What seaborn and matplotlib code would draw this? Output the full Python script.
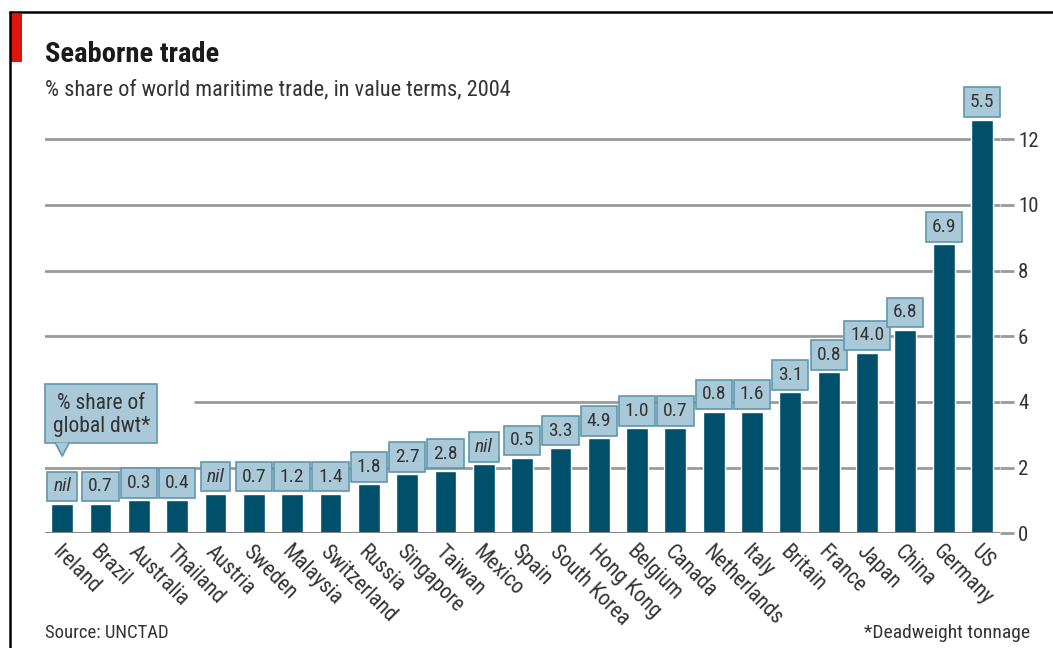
import numpy as np
import pandas as pd
import matplotlib
matplotlib.use('Agg')
import matplotlib.pyplot as plt
import seaborn as sns
from matplotlib.patches import Rectangle, Polygon
from matplotlib.lines import Line2D
from matplotlib import font_manager

# data
countries = ['Ireland', 'Brazil', 'Australia', 'Thailand', 'Austria', 'Sweden',
             'Malaysia', 'Switzerland', 'Russia', 'Singapore', 'Taiwan', 'Mexico',
             'Spain', 'South Korea', 'Hong Kong', 'Belgium', 'Canada',
             'Netherlands', 'Italy', 'Britain', 'France', 'Japan', 'China',
             'Germany', 'US']
trade_share = [0.9, 0.9, 1.0, 1.0, 1.2, 1.2, 1.2, 1.2, 1.5, 1.8, 1.9, 2.1,
               2.3, 2.6, 2.9, 3.2, 3.2, 3.7, 3.7, 4.3, 4.9, 5.5, 6.2, 8.8, 12.6]
dwt_share = ['nil', '0.7', '0.3', '0.4', 'nil', '0.7', '1.2', '1.4', '1.8',
             '2.7', '2.8', 'nil', '0.5', '3.3', '4.9', '1.0', '0.7', '0.8',
             '1.6', '3.1', '0.8', '14.0', '6.8', '6.9', '5.5']
y_ticks = [0, 2, 4, 6, 8, 10, 12]

df = pd.DataFrame({'country': countries, 'share': trade_share})

sns.set_theme(style='white')
installed = {f.name for f in font_manager.fontManager.ttflist}
fonts = [f for f in ['Roboto Condensed', 'Liberation Sans Narrow', 'Roboto']
         if f in installed] + ['DejaVu Sans']
plt.rcParams['font.family'] = fonts
plt.rcParams['font.stretch'] = 'condensed'

bar_col = '#004f6b'
box_face = '#a9c9d8'
box_edge = '#5f97ad'
grid_col = '#9a9a9a'
txt_col = '#333333'

fig = plt.figure(figsize=(10.53, 6.48), dpi=100)
ax = fig.add_axes([0.0427, 0.177, 0.907, 0.684])

sns.barplot(data=df, x='country', y='share', color=bar_col, width=0.57,
            saturation=1, ax=ax, zorder=3)

ax.set_xlim(-0.45, len(countries) - 0.53)
ax.set_ylim(0, 13.5)

# gridlines (the one at 4 is cut short by the call-out box)
for t in y_ticks[1:]:
    xmin = 0.157 if t == 4 else 0
    ax.axhline(t, xmin=xmin, xmax=1, color=grid_col, lw=2, zorder=1)
ax.axhline(0, color='#888888', lw=2.2, zorder=4)

ax.yaxis.tick_right()
ax.set_yticks(y_ticks)
ax.tick_params(axis='y', length=10, width=2, color=grid_col, labelsize=15,
               labelcolor=txt_col, pad=3, right=True)
ax.set_xticks(range(len(countries)))
ax.set_xticklabels(countries, rotation=-45, ha='left', rotation_mode='anchor',
                   fontsize=15.5, color=txt_col)
ax.tick_params(axis='x', length=0, pad=6)
ax.set_xlabel('')
ax.set_ylabel('')
for s in ax.spines.values():
    s.set_visible(False)

# dwt boxes above each bar
for i, (v, lab) in enumerate(zip(trade_share, dwt_share)):
    ax.annotate(lab, xy=(i, v), xytext=(0, 6), textcoords='offset points',
                ha='center', va='bottom', fontsize=14, color=txt_col,
                style='italic' if lab == 'nil' else 'normal', zorder=6,
                bbox=dict(boxstyle='square,pad=0.3', fc=box_face, ec=box_edge, lw=1.2))

# call-out box
ax.add_patch(Rectangle((-0.44, 2.75), 2.92, 1.8, fc=box_face, ec=box_edge,
                       lw=1.2, zorder=5, clip_on=False))
ax.add_patch(Polygon([(-0.18, 2.76), (0.0, 2.35), (0.18, 2.76)], closed=True,
                     fc=box_face, ec='none', zorder=6, clip_on=False))
ax.plot([-0.18, 0.0, 0.18], [2.75, 2.35, 2.75], color=box_edge, lw=1.2, zorder=6,
        clip_on=False)
ax.text(1.02, 3.6, '% share of\nglobal dwt*', ha='center', va='center',
        fontsize=15.5, color=txt_col, linespacing=1.15, zorder=7)

# frame, red tag, titles
fig.add_artist(Line2D([0.0095, 1.0], [0.9815, 0.9815], color='black', lw=1.8))
fig.add_artist(Line2D([0.0095, 0.0095], [0.0, 0.9815], color='black', lw=1.8))
fig.add_artist(Rectangle((0.0095, 0.904), 0.0114, 0.074, fc='#e3120b', ec='none',
                         transform=fig.transFigure))
fig.text(0.0427, 0.904, 'Seaborne trade', fontsize=20.5, fontweight='bold',
         color='#1a1a1a', va='baseline')
fig.text(0.0427, 0.853, '% share of world maritime trade, in value terms, 2004',
         fontsize=16, color=txt_col, va='baseline')
fig.text(0.0427, 0.023, 'Source: UNCTAD', fontsize=13.5, color=txt_col, va='center')
fig.text(0.978, 0.023, '*Deadweight tonnage', fontsize=14, color=txt_col,
         va='center', ha='right')

plt.savefig('out.png', dpi=100)
